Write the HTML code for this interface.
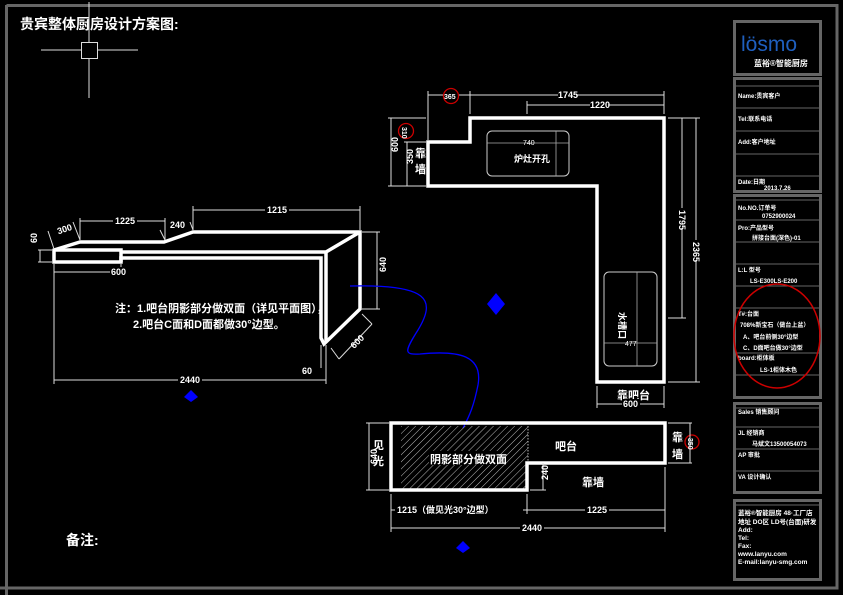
<!DOCTYPE html>
<html><head><meta charset="utf-8">
<style>
html,body{margin:0;padding:0;background:#000;}
svg{display:block;}
text{font-family:"Liberation Sans","Noto Sans CJK SC",sans-serif;fill:#fff;font-weight:bold;}
.d{stroke:#ddd;stroke-width:1;fill:none;}
.w{stroke:#fff;stroke-width:3.5;fill:none;stroke-linejoin:miter;}
.g{stroke:#666;fill:none;}
.s{font-size:7px;}
.m{font-size:9px;}
</style></head>
<body>
<svg width="843" height="595" viewBox="0 0 843 595" xmlns="http://www.w3.org/2000/svg">
<defs>
<pattern id="h" patternUnits="userSpaceOnUse" width="5" height="5" patternTransform="rotate(45)">
<line x1="0" y1="0" x2="0" y2="5" stroke="#bbb" stroke-width="1"/>
</pattern>
</defs>
<rect width="843" height="595" fill="#000"/>
<path d="M6.5,5.5 H837 V588 H0" class="g" stroke-width="3"/>
<line x1="6.5" y1="5" x2="6.5" y2="595" class="g" stroke-width="3"/>
<line x1="0" y1="588" x2="837" y2="588" class="g" stroke-width="3"/>

<text x="20" y="29" style="font-size:14px">贵宾整体厨房设计方案图:</text>
<line x1="41" y1="50" x2="138" y2="50" stroke="#ddd"/>
<line x1="89" y1="2" x2="89" y2="98" stroke="#ddd"/>
<rect x="81.5" y="42.5" width="16" height="16" fill="#000" stroke="#ddd"/>

<g>
<path class="w" stroke-width="3" d="M54,250 L80,242 L164,242 L193,232 L360,232 L360,309 L324,344 L321,338 L321,258 L121,258 L121,262 L54,262 Z"/>
<path class="w" stroke-width="3" d="M54,250 L121,250 L121,262 M121,252 L326,252 L360,232 M326,252 L326,342"/>
<g class="d">
<line x1="54" y1="272" x2="121" y2="272"/><line x1="54" y1="264" x2="54" y2="276"/><line x1="121" y1="264" x2="121" y2="276"/>
<line x1="54" y1="380" x2="326" y2="380"/><line x1="54" y1="264" x2="54" y2="384"/><line x1="326" y1="345" x2="326" y2="384"/>
<line x1="193" y1="210" x2="360" y2="210"/><line x1="193" y1="206" x2="193" y2="230"/><line x1="360" y1="206" x2="360" y2="230"/>
<line x1="80" y1="221" x2="165" y2="221"/><line x1="80" y1="218" x2="80" y2="240"/><line x1="165" y1="218" x2="165" y2="240"/>
<line x1="377" y1="232" x2="377" y2="309"/><line x1="362" y1="232" x2="380" y2="232"/><line x1="362" y1="309" x2="380" y2="309"/>
<line x1="40" y1="250" x2="40" y2="262"/><line x1="38" y1="250" x2="52" y2="250"/><line x1="38" y1="262" x2="52" y2="262"/>
<line x1="48" y1="231" x2="54" y2="249"/><line x1="73" y1="222" x2="80" y2="240"/>
<line x1="160" y1="230" x2="165" y2="240"/><line x1="190" y1="222" x2="193" y2="230"/>
<line x1="331" y1="348" x2="339" y2="359"/><line x1="362" y1="314" x2="372" y2="324"/><line x1="339" y1="359" x2="372" y2="324"/>
<line x1="321" y1="345" x2="321" y2="368"/>
</g>
<rect x="110" y="267" width="18" height="10" fill="#000"/>
<text x="111" y="275" class="m">600</text>
<rect x="178" y="375" width="24" height="10" fill="#000"/>
<text x="180" y="383" class="m">2440</text>
<rect x="265" y="205" width="24" height="10" fill="#000"/>
<text x="267" y="213" class="m">1215</text>
<rect x="113" y="216" width="24" height="10" fill="#000"/>
<text x="115" y="224" class="m">1225</text>
<text x="170" y="228" class="m">240</text>
<text x="57" y="232" class="m" transform="rotate(-18 65 229)">300</text>
<text x="34" y="246" class="m" transform="rotate(-90 34 243)">60</text>
<text x="383" y="275" class="m" transform="rotate(-90 383 272)">640</text>
<text x="350" y="345" class="m" transform="rotate(-45 357 342)">600</text>
<text x="302" y="374" class="m">60</text>
<text x="115" y="312" style="font-size:11px">注：1.吧台阴影部分做双面（详见平面图），</text>
<text x="133" y="328" style="font-size:11px">2.吧台C面和D面都做30°边型。</text>
</g>
<path d="M184,397 L191,390 L198,397 L191,402 Z" fill="#0000ff"/>
<path d="M456,548 L463,541 L470,548 L463,553 Z" fill="#0000ff"/>
<path d="M487,304 L496,293 L505,304 L496,315 Z" fill="#0000ff"/>
<path d="M350,286 C430,284 436,300 418,330 C404,352 404,355 420,354 C460,350 483,356 478,385 C474,405 470,415 463,428" fill="none" stroke="#0000ff" stroke-width="1.3"/>

<path class="w" d="M428,142 L470,142 L470,118 L664,118 L664,382 L597,382 L597,186 L428,186 Z"/>
<rect x="487" y="131" width="82" height="45" rx="5" fill="none" stroke="#ccc" stroke-width="1"/>
<line x1="487" y1="143" x2="569" y2="143" stroke="#aaa" stroke-width="0.8"/>
<line x1="556" y1="131" x2="556" y2="176" stroke="#aaa" stroke-width="0.8"/>
<text x="514" y="162" style="font-size:9px">炉灶开孔</text>
<text x="523" y="145" class="s" style="font-weight:normal">740</text>
<rect x="604" y="272" width="53" height="94" rx="5" fill="none" stroke="#ccc" stroke-width="1"/>
<line x1="637" y1="272" x2="637" y2="366" stroke="#aaa" stroke-width="0.8"/>
<line x1="604" y1="343" x2="657" y2="343" stroke="#aaa" stroke-width="0.8"/>
<text x="625" y="346" class="s" style="font-weight:normal">477</text>
<text x="619" y="312" style="font-size:9px" transform="rotate(90 619 312)">水槽口</text>
<g class="d">
<line x1="428" y1="95" x2="664" y2="95"/><line x1="428" y1="91" x2="428" y2="140"/><line x1="470" y1="91" x2="470" y2="114"/><line x1="664" y1="91" x2="664" y2="114"/>
<line x1="527" y1="105" x2="664" y2="105"/><line x1="527" y1="101" x2="527" y2="114"/>
<line x1="682" y1="118" x2="682" y2="318"/><line x1="668" y1="118" x2="700" y2="118"/><line x1="668" y1="318" x2="686" y2="318"/>
<line x1="696" y1="118" x2="696" y2="382"/><line x1="668" y1="382" x2="700" y2="382"/>
<line x1="391" y1="118" x2="391" y2="186"/><line x1="388" y1="118" x2="426" y2="118"/><line x1="388" y1="186" x2="426" y2="186"/>
<line x1="407" y1="142" x2="407" y2="186"/><line x1="404" y1="142" x2="426" y2="142"/>
<line x1="597" y1="404" x2="664" y2="404"/><line x1="597" y1="386" x2="597" y2="408"/><line x1="664" y1="386" x2="664" y2="408"/>
</g>
<rect x="558" y="90" width="18" height="10" fill="#000"/><text x="558" y="98" class="m">1745</text>
<rect x="590" y="100" width="18" height="10" fill="#000"/><text x="590" y="108" class="m">1220</text>
<rect x="677" y="208" width="10" height="20" fill="#000"/><text x="679" y="210" class="m" transform="rotate(90 679 210)">1795</text>
<rect x="691" y="240" width="10" height="20" fill="#000"/><text x="693" y="242" class="m" transform="rotate(90 693 242)">2365</text>
<text x="394" y="156" class="m" transform="rotate(-90 394 152)">600</text>
<text x="409" y="168" class="m" transform="rotate(-90 409 164)">350</text>
<text x="415" y="157" style="font-size:11px">靠</text><text x="415" y="173" style="font-size:11px">墙</text>
<circle cx="451" cy="96" r="7.5" fill="#000" stroke="#c00" stroke-width="1.3"/><text x="444" y="99" class="s">365</text>
<circle cx="406" cy="131" r="7.5" fill="#000" stroke="#c00" stroke-width="1.3"/><text x="402" y="135" class="s" transform="rotate(90 406 131)">310</text>
<text x="617" y="399" style="font-size:11px">靠吧台</text>
<rect x="622" y="399" width="18" height="10" fill="#000"/><text x="623" y="407" class="m">600</text>

<rect x="401" y="426" width="127" height="63" fill="url(#h)"/>
<line x1="528" y1="426" x2="528" y2="463" stroke="#bbb" stroke-dasharray="1.5,1.5"/>
<path class="w" d="M391,423 L665,423 L665,463 L527,463 L527,490 L391,490 Z"/>
<rect x="429" y="451" width="70" height="14" fill="#000"/>
<text x="430" y="463" style="font-size:11px">阴影部分做双面</text>
<text x="555" y="450" style="font-size:11px">吧台</text>
<text x="582" y="486" style="font-size:11px">靠墙</text>
<text x="373" y="449" style="font-size:11px">见</text><text x="373" y="465" style="font-size:11px">光</text>
<text x="672" y="441" style="font-size:11px">靠</text><text x="672" y="458" style="font-size:11px">墙</text>
<circle cx="692" cy="442" r="7" fill="#000" stroke="#c00" stroke-width="1.3"/><text x="688" y="446" class="s" transform="rotate(90 692 442)">350</text>
<g class="d">
<line x1="369" y1="423" x2="369" y2="490"/><line x1="366" y1="423" x2="389" y2="423"/><line x1="366" y1="490" x2="389" y2="490"/>
<line x1="543" y1="463" x2="543" y2="490"/><line x1="530" y1="490" x2="546" y2="490"/>
<line x1="391" y1="510" x2="665" y2="510"/><line x1="391" y1="494" x2="391" y2="532"/><line x1="527" y1="494" x2="527" y2="514"/><line x1="665" y1="467" x2="665" y2="532"/>
<line x1="391" y1="528" x2="665" y2="528"/>
<line x1="668" y1="423" x2="692" y2="423"/><line x1="668" y1="463" x2="692" y2="463"/><line x1="690" y1="423" x2="690" y2="463"/>
</g>
<text x="366" y="467" class="m" transform="rotate(-90 370 460)">640</text>
<text x="540" y="478" class="m" transform="rotate(-90 545 475)">240</text>
<rect x="395" y="504" width="128" height="11" fill="#000"/><text x="397" y="513" class="m">1215（做见光30°边型）</text>
<rect x="585" y="504" width="24" height="11" fill="#000"/><text x="587" y="513" class="m">1225</text>
<rect x="520" y="522" width="24" height="11" fill="#000"/><text x="522" y="531" class="m">2440</text>

<text x="66" y="545" style="font-size:14px">备注:</text>

<g stroke="#666" stroke-width="3" fill="none">
<rect x="734.5" y="21.5" width="86" height="53"/>
<rect x="734.5" y="78.5" width="86" height="113"/>
<rect x="734.5" y="195.5" width="86" height="202"/>
<rect x="734.5" y="403.5" width="86" height="89"/>
<rect x="734.5" y="500.5" width="86" height="79"/>
</g>
<g stroke="#666" stroke-width="1">
<line x1="736" y1="86" x2="819" y2="86"/>
<line x1="736" y1="108" x2="819" y2="108"/>
<line x1="736" y1="131" x2="819" y2="131"/>
<line x1="736" y1="154" x2="819" y2="154"/>
<line x1="736" y1="176" x2="819" y2="176"/>
<line x1="736" y1="200" x2="819" y2="200"/>
<line x1="736" y1="220" x2="819" y2="220"/>
<line x1="736" y1="242" x2="819" y2="242"/>
<line x1="736" y1="264" x2="819" y2="264"/>
<line x1="736" y1="286" x2="819" y2="286"/>
<line x1="736" y1="308" x2="819" y2="308"/>
<line x1="736" y1="353" x2="819" y2="353"/>
<line x1="736" y1="375" x2="819" y2="375"/>
<line x1="736" y1="408" x2="819" y2="408"/>
<line x1="736" y1="427" x2="819" y2="427"/>
<line x1="736" y1="449" x2="819" y2="449"/>
<line x1="736" y1="471" x2="819" y2="471"/>
<line x1="736" y1="505" x2="819" y2="505"/>
</g>
<text x="741" y="51" style="font-size:21px;fill:#1f5fbf;font-weight:normal">lösmo</text>
<text x="754" y="66" style="font-size:8px">蓝裕®智能厨房</text>
<g style="font-size:6px">
<text x="738" y="98">Name:贵宾客户</text>
<text x="738" y="121">Tel:联系电话</text>
<text x="738" y="144">Add:客户地址</text>
<text x="738" y="184">Date:日期</text>
<text x="764" y="190">2013.7.26</text>
<text x="738" y="210">No.NO.订单号</text>
<text x="762" y="218">0752900024</text>
<text x="738" y="230">Pro:产品型号</text>
<text x="752" y="240">拼接台面(深色)-01</text>
<text x="738" y="272">L:L 型号</text>
<text x="750" y="283">LS-E300LS-E200</text>
<text x="738" y="316">T#:台面</text>
<text x="740" y="327">708%新宝石（做台上盆）</text>
<text x="743" y="339">A、吧台前侧30°边型</text>
<text x="743" y="350">C、D面吧台做30°边型</text>
<text x="738" y="360">board:柜体板</text>
<text x="760" y="372">LS-1柜体木色</text>
<text x="738" y="414">Sales 销售顾问</text>
<text x="738" y="435">JL 经销商</text>
<text x="752" y="446">马斌文13500054073</text>
<text x="738" y="457">AP 审批</text>
<text x="738" y="479">VA 设计确认</text>
</g>
<g style="font-size:6.5px">
<text x="738" y="515">蓝裕®智能厨房 48·工厂店</text>
<text x="738" y="524">地址 DO区 LD号(台面)研发</text>
<text x="738" y="532">Add:</text>
<text x="738" y="540">Tel:</text>
<text x="738" y="548">Fax:</text>
<text x="738" y="556">www.lanyu.com</text>
<text x="738" y="564">E-mail:lanyu-smg.com</text>
</g>
<ellipse cx="777" cy="336" rx="43" ry="52" fill="none" stroke="#c00" stroke-width="1.5"/>
</svg>
</body></html>
